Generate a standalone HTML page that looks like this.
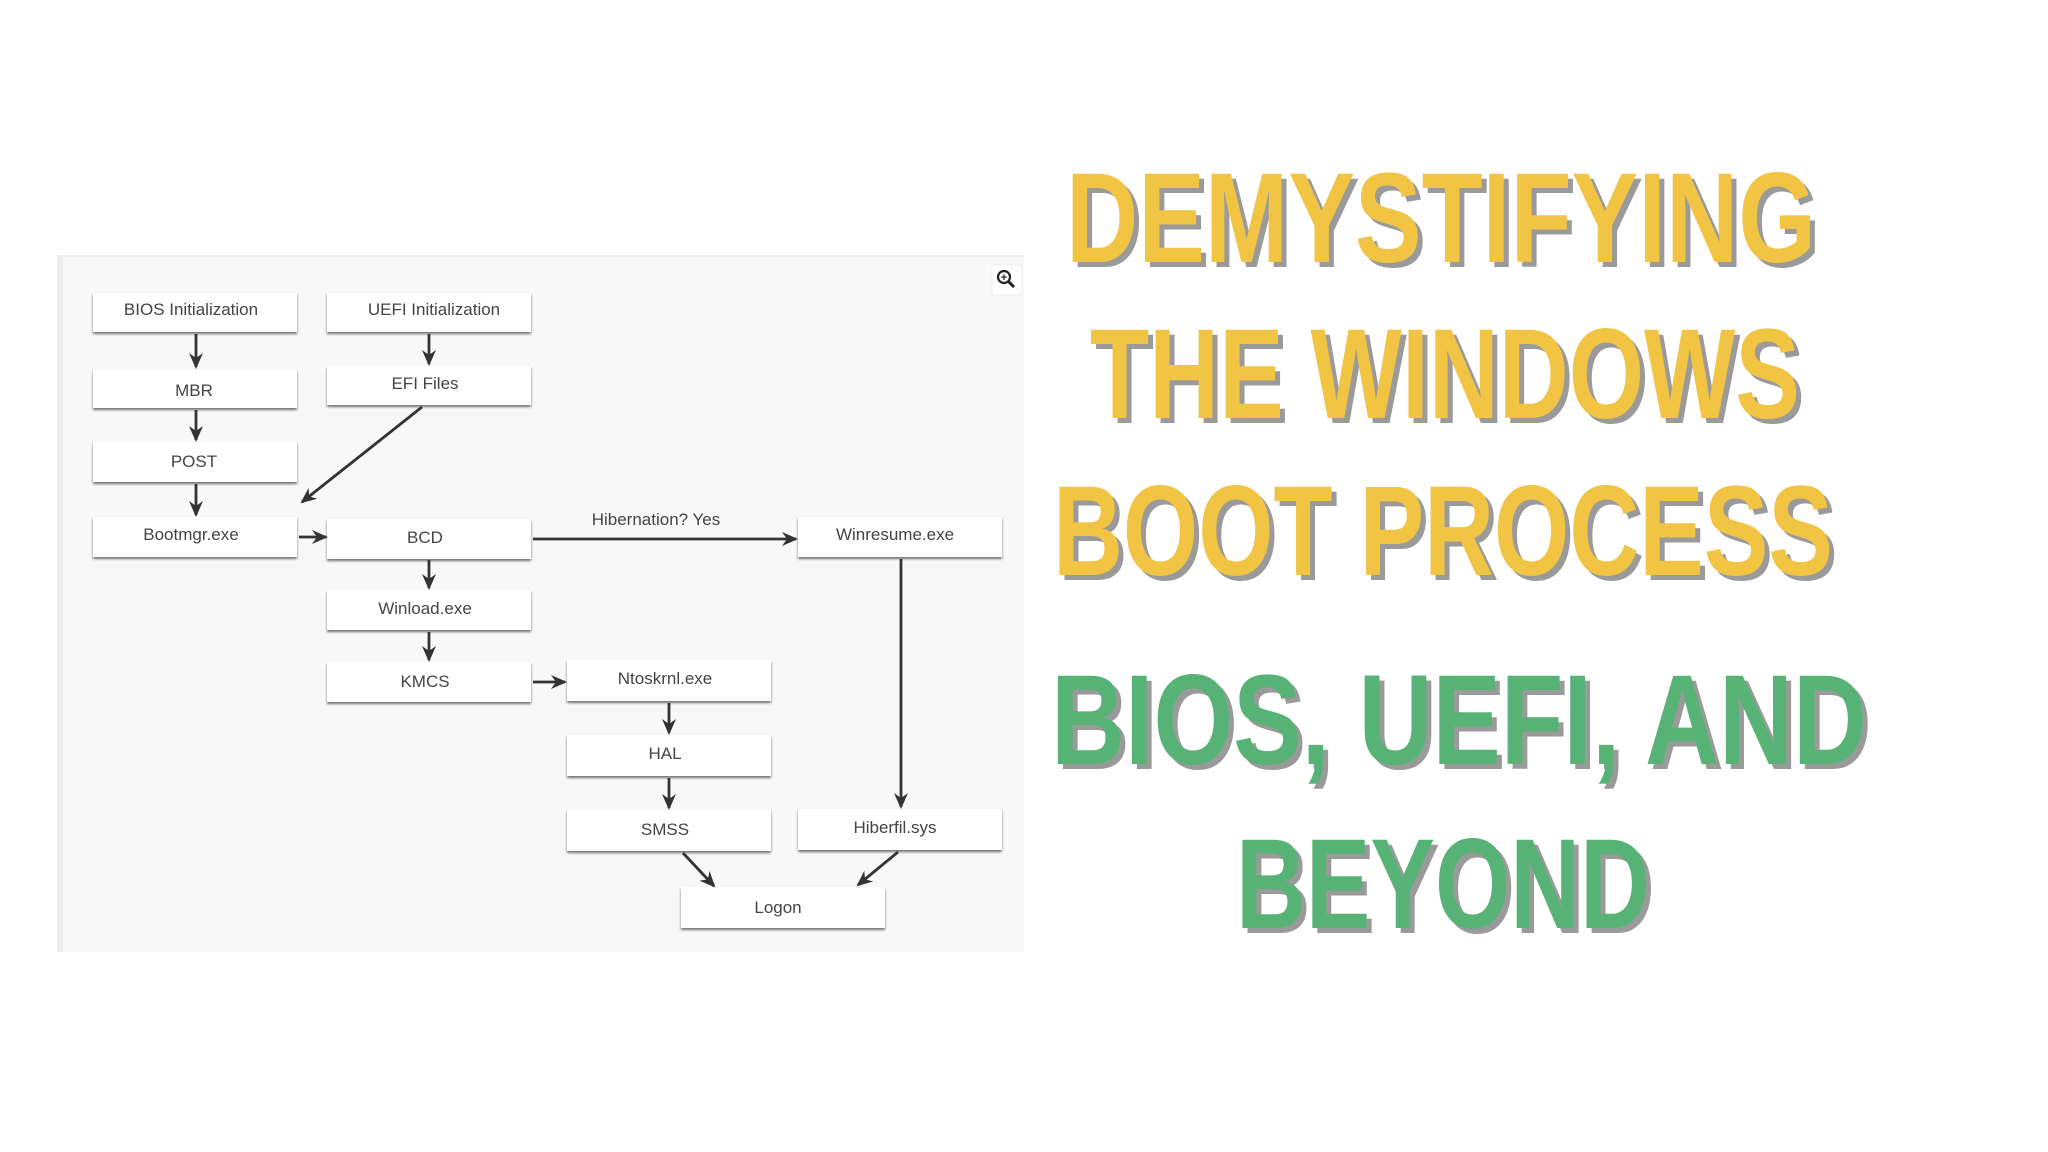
<!DOCTYPE html>
<html><head><meta charset="utf-8"><style>
html,body{margin:0;padding:0;background:#fff;width:2048px;height:1152px;overflow:hidden}
</style></head><body>
<svg width="2048" height="1152" xmlns="http://www.w3.org/2000/svg" font-family="Liberation Sans, sans-serif">
<defs>
<marker id="ah" markerWidth="16" markerHeight="16" refX="14" refY="8" orient="auto" markerUnits="userSpaceOnUse" viewBox="0 0 16 16">
<path d="M0,1 L16,8 L0,15 L5,8 z" fill="#333"/></marker>
<filter id="sh" x="-5%" y="-20%" width="110%" height="150%"><feDropShadow dx="0" dy="2" stdDeviation="1.2" flood-color="#000" flood-opacity="0.55"/></filter>
</defs>
<rect x="57" y="255" width="967" height="697" fill="#f8f8f8"/>
<rect x="57" y="255" width="6" height="697" fill="#ececec"/>
<rect x="57" y="255" width="967" height="2" fill="#efefef"/>
<rect x="992" y="265" width="30" height="30" rx="3" fill="#fff" stroke="#eee"/>
<circle cx="1004" cy="277" r="6" fill="none" stroke="#222" stroke-width="2.2"/>
<line x1="1008" y1="281" x2="1014" y2="287" stroke="#222" stroke-width="3"/>
<text x="1004" y="281" font-size="11" text-anchor="middle" font-weight="bold" fill="#222">+</text>
<g fill="#fff" filter="url(#sh)">
<rect x="93" y="293" width="204" height="39"/>
<rect x="327" y="293" width="204" height="39"/>
<rect x="93" y="370" width="204" height="38"/>
<rect x="327" y="366" width="204" height="39"/>
<rect x="93" y="442" width="204" height="40"/>
<rect x="93" y="517" width="204" height="40"/>
<rect x="327" y="519" width="204" height="40"/>
<rect x="798" y="517" width="204" height="40"/>
<rect x="327" y="590" width="204" height="40"/>
<rect x="327" y="662" width="204" height="40"/>
<rect x="567" y="660" width="204" height="41"/>
<rect x="567" y="735" width="204" height="41"/>
<rect x="567" y="810" width="204" height="41"/>
<rect x="798" y="809" width="204" height="41"/>
<rect x="681" y="887" width="204" height="41"/>
</g>
<g font-size="17" fill="#444" text-anchor="middle">
<text x="191" y="315">BIOS Initialization</text>
<text x="434" y="315">UEFI Initialization</text>
<text x="194" y="396">MBR</text>
<text x="425" y="389">EFI Files</text>
<text x="194" y="467">POST</text>
<text x="191" y="540">Bootmgr.exe</text>
<text x="425" y="543">BCD</text>
<text x="895" y="540">Winresume.exe</text>
<text x="425" y="614">Winload.exe</text>
<text x="425" y="687">KMCS</text>
<text x="665" y="684">Ntoskrnl.exe</text>
<text x="665" y="759">HAL</text>
<text x="665" y="835">SMSS</text>
<text x="895" y="833">Hiberfil.sys</text>
<text x="778" y="913">Logon</text>
<text x="656" y="525">Hibernation? Yes</text>
</g>
<g stroke="#333" stroke-width="2.8" marker-end="url(#ah)" fill="none">
<line x1="196" y1="334" x2="196" y2="367"/>
<line x1="429" y1="334" x2="429" y2="364"/>
<line x1="196" y1="410" x2="196" y2="440"/>
<line x1="196" y1="484" x2="196" y2="515"/>
<line x1="422" y1="407" x2="302" y2="502"/>
<line x1="299" y1="537" x2="326" y2="537"/>
<line x1="533" y1="539" x2="796" y2="539"/>
<line x1="429" y1="560" x2="429" y2="588"/>
<line x1="429" y1="632" x2="429" y2="660"/>
<line x1="533" y1="682" x2="565" y2="682"/>
<line x1="669" y1="703" x2="669" y2="733"/>
<line x1="669" y1="778" x2="669" y2="808"/>
<line x1="901" y1="559" x2="901" y2="807"/>
<line x1="683" y1="853" x2="714" y2="886"/>
<line x1="898" y1="852" x2="858" y2="885"/>
</g>
<g font-weight="bold" font-size="128">
<g fill="#9a9a9a" transform="translate(5,5)">
<text x="1066" y="262" textLength="750" lengthAdjust="spacingAndGlyphs">DEMYSTIFYING</text>
<text x="1090" y="418" textLength="710" lengthAdjust="spacingAndGlyphs">THE WINDOWS</text>
<text x="1053" y="575" textLength="780" lengthAdjust="spacingAndGlyphs">BOOT PROCESS</text>
<text x="1051" y="764" textLength="816" lengthAdjust="spacingAndGlyphs">BIOS, UEFI, AND</text>
<text x="1236" y="928" textLength="414" lengthAdjust="spacingAndGlyphs">BEYOND</text>
</g>
<g fill="#f2c443">
<text x="1066" y="262" textLength="750" lengthAdjust="spacingAndGlyphs">DEMYSTIFYING</text>
<text x="1090" y="418" textLength="710" lengthAdjust="spacingAndGlyphs">THE WINDOWS</text>
<text x="1053" y="575" textLength="780" lengthAdjust="spacingAndGlyphs">BOOT PROCESS</text>
</g>
<g fill="#57b375">
<text x="1051" y="764" textLength="816" lengthAdjust="spacingAndGlyphs">BIOS, UEFI, AND</text>
<text x="1236" y="928" textLength="414" lengthAdjust="spacingAndGlyphs">BEYOND</text>
</g>
</g>
</svg>
</body></html>
